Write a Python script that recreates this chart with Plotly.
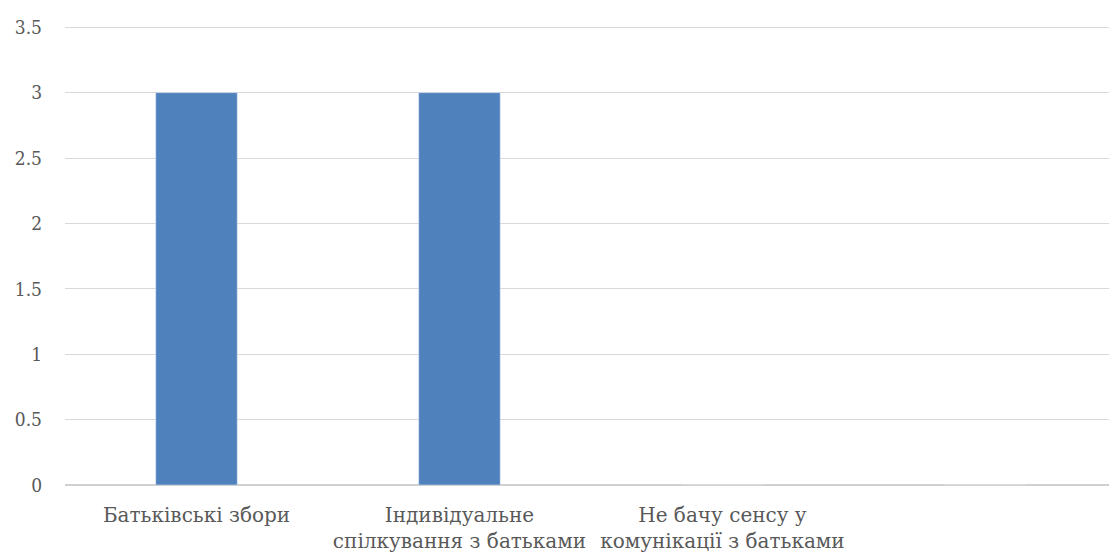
import plotly.graph_objects as go

categories = ["Батьківські збори", "Індивідуальне<br>спілкування з батьками", "Не бачу сенсу у<br>комунікації з батьками", " "]
values = [3, 3, 0, 0]
y_ticks = [0, 0.5, 1, 1.5, 2, 2.5, 3, 3.5]
y_labels = ["0", "0.5", "1", "1.5", "2", "2.5", "3", "3.5"]

font_family = "DejaVu Serif Condensed, DejaVu Serif, serif"

fig = go.Figure(go.Bar(x=categories, y=values, marker_color="#4f81bd", width=0.31))

fig.update_layout(
    width=1109, height=555,
    margin=dict(l=65, r=0, t=26, b=70),
    paper_bgcolor="white", plot_bgcolor="white",
    showlegend=False,
    font=dict(family=font_family, size=19, color="#595959"),
)
fig.update_xaxes(range=[-0.5, 3.47], showgrid=False, showline=False, ticks="",
                 ticklabelstandoff=16,
                 tickfont=dict(family="DejaVu Serif, serif", size=20, color="#595959"))
fig.update_yaxes(range=[0, 3.51], tickvals=y_ticks, ticktext=y_labels,
                 showgrid=True, gridcolor="#d9d9d9", gridwidth=1,
                 zeroline=True, zerolinecolor="#d0d0d0", zerolinewidth=1.5,
                 showline=False, ticks="", ticklabelstandoff=22,
                 tickfont=dict(size=19, color="#595959"))

fig.write_html("out.html", config={"displayModeBar": False},
               post_script="document.body.style.margin='0';")
